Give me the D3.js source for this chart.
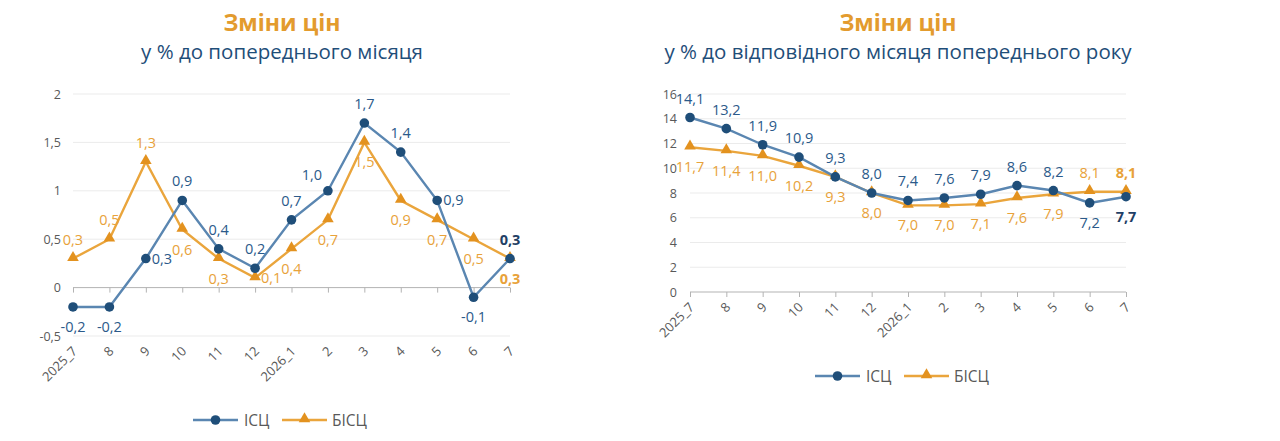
<!DOCTYPE html>
<html>
<head>
<meta charset="utf-8">
<script src="https://cdn.jsdelivr.net/npm/d3@7"></script>
<style>
body { margin: 0; background: #fff; }
svg { font-family: "Open Sans", "DejaVu Sans", sans-serif; }
</style>
</head>
<body>
<script>
(function(){

//categories shared by both charts
var months = ["2025_7", "8", "9", "10", "11", "12", "2026_1", "2", "3", "4", "5", "6", "7"];
var seriesNames = ["ІСЦ", "БІСЦ"];

//month to month, %
var cpiMoM = [-0.2, -0.2, 0.3, 0.9, 0.4, 0.2, 0.7, 1.0, 1.7, 1.4, 0.9, -0.1, 0.3];
var hicpMoM = [0.3, 0.5, 1.3, 0.6, 0.3, 0.1, 0.4, 0.7, 1.5, 0.9, 0.7, 0.5, 0.3];
//year on year, %
var cpiYoY = [14.1, 13.2, 11.9, 10.9, 9.3, 8.0, 7.4, 7.6, 7.9, 8.6, 8.2, 7.2, 7.7];
var hicpYoY = [11.7, 11.4, 11.0, 10.2, 9.3, 8.0, 7.0, 7.0, 7.1, 7.6, 7.9, 8.1, 8.1];

//label placement per point: a = above, b = below, r = right, l = above left
var cpiMoMPos = ["b","b","r","a","a","a","a","l","a","a","r","b","a"];
var hicpMoMPos = ["a","a","a","b","b","r","b","b","b","b","b","b","b"];
var cpiYoYPos = ["a","a","a","a","a","a","a","a","a","a","a","b","b"];
var hicpYoYPos = ["b","b","b","b","b","b","b","b","b","b","b","a","a"];

var leftTicks = [-0.5, 0, 0.5, 1, 1.5, 2];
var rightTicks = [0, 2, 4, 6, 8, 10, 12, 14, 16];

var blueLine = "#5a86b1", blueDot = "#1f4e79", blueText = "#2b5a8a";
var orangeLine = "#eaa53c", orangeDot = "#e3921f", orangeText = "#e8a23a";

var svg = d3.select("body").append("svg")
    .attr("width", 1280)
    .attr("height", 441);

var fmt = function(v){
    return d3.format(".1f")(v).replace(".", ",").replace("−", "-");
};
//axis style: no trailing zero
var fmtTick = function(v){
    return String(v).replace(".", ",");
};

drawChart({
    cx: 282, title: "Зміни цін", subtitle: "у % до попереднього місяця",
    x0: 73, x1: 510, yTop: 94, yBottom: 336,
    domain: [-0.5, 2], ticks: leftTicks, tickLabelX: 61,
    labelY: 352, legendY: 420, legendX: 193,
    a: cpiMoM, b: hicpMoM, aPos: cpiMoMPos, bPos: hicpMoMPos
});

drawChart({
    cx: 898, title: "Зміни цін", subtitle: "у % до відповідного місяця попереднього року",
    x0: 690, x1: 1126, yTop: 94, yBottom: 292,
    domain: [0, 16], ticks: rightTicks, tickLabelX: 677,
    labelY: 308, legendY: 376, legendX: 815,
    a: cpiYoY, b: hicpYoY, aPos: cpiYoYPos, bPos: hicpYoYPos
});

function drawChart(c){
    var g = svg.append("g");

    //titles
    g.append("text")
        .attr("x", c.cx).attr("y", 30.5)
        .attr("text-anchor", "middle")
        .attr("font-size", 23).attr("font-weight", "bold")
        .attr("fill", "#e39b2e")
        .text(c.title);
    g.append("text")
        .attr("x", c.cx).attr("y", 59)
        .attr("text-anchor", "middle")
        .attr("font-size", 20.5)
        .attr("fill", "#1f4e79")
        .text(c.subtitle);

    var x = d3.scalePoint().domain(months).range([c.x0, c.x1]);
    var y = d3.scaleLinear().domain(c.domain).range([c.yBottom, c.yTop]);

    //gridlines
    g.selectAll(".grid")
        .data(c.ticks.filter(function(t){ return t !== 0; }))
        .enter().append("line")
        .attr("x1", c.x0).attr("x2", c.x1)
        .attr("y1", function(d){ return y(d); })
        .attr("y2", function(d){ return y(d); })
        .attr("stroke", "#ebebeb").attr("stroke-width", 1);

    //y tick labels
    g.selectAll(".ytick")
        .data(c.ticks)
        .enter().append("text")
        .attr("x", c.tickLabelX)
        .attr("y", function(d){ return y(d) + 4.5; })
        .attr("text-anchor", "end")
        .attr("font-size", 12.5).attr("fill", "#595959")
        .text(fmtTick);

    //zero axis with ticks
    var axis = g.append("g")
        .attr("transform", "translate(0," + y(0) + ")")
        .call(d3.axisBottom(x).tickSize(5).tickFormat(""));
    axis.select(".domain").attr("stroke", "#b3b3b3").attr("d", "M" + c.x0 + ",0H" + c.x1);
    axis.selectAll(".tick line").attr("stroke", "#b3b3b3");

    //x labels, rotated
    g.selectAll(".xlab")
        .data(months)
        .enter().append("text")
        .attr("transform", function(d){
            return "translate(" + (x(d) + 5) + "," + c.labelY + ") rotate(-45)";
        })
        .attr("text-anchor", "end")
        .attr("font-size", 13).attr("fill", "#595959")
        .text(function(d){ return d; });

    var line = d3.line()
        .x(function(d, i){ return x(months[i]); })
        .y(function(d){ return y(d); });

    //orange series first, blue on top
    g.append("path").datum(c.b)
        .attr("d", line).attr("fill", "none")
        .attr("stroke", orangeLine).attr("stroke-width", 2.4);
    g.selectAll(".tri").data(c.b).enter().append("path")
        .attr("d", d3.symbol().type(d3.symbolTriangle).size(58))
        .attr("transform", function(d, i){ return "translate(" + x(months[i]) + "," + (y(d) - 1) + ")"; })
        .attr("fill", orangeDot);

    g.append("path").datum(c.a)
        .attr("d", line).attr("fill", "none")
        .attr("stroke", blueLine).attr("stroke-width", 2.4);
    g.selectAll(".dot").data(c.a).enter().append("circle")
        .attr("cx", function(d, i){ return x(months[i]); })
        .attr("cy", function(d){ return y(d); })
        .attr("r", 4.8)
        .attr("fill", blueDot);

    //data labels
    addLabels(g, c.a, c.aPos, blueText, x, y);
    addLabels(g, c.b, c.bPos, orangeText, x, y);

    //legend
    var lg = g.append("g").attr("transform", "translate(" + c.legendX + "," + c.legendY + ")");
    lg.append("line").attr("x1", 0).attr("x2", 45).attr("stroke", blueLine).attr("stroke-width", 2.4);
    lg.append("circle").attr("cx", 22.5).attr("r", 4.8).attr("fill", blueDot);
    lg.append("text").attr("x", 51).attr("y", 5.5).attr("font-size", 15.5).attr("fill", "#595959").text(seriesNames[0]);
    lg.append("line").attr("x1", 89).attr("x2", 134).attr("stroke", orangeLine).attr("stroke-width", 2.4);
    lg.append("path").attr("d", d3.symbol().type(d3.symbolTriangle).size(58))
        .attr("transform", "translate(111.5,-1)").attr("fill", orangeDot);
    lg.append("text").attr("x", 139).attr("y", 5.5).attr("font-size", 15.5).attr("fill", "#595959").text(seriesNames[1]);
}

function addLabels(g, vals, pos, color, x, y){
    g.selectAll(null).data(vals).enter().append("text")
        .attr("x", function(d, i){
            var p = pos[i], px = x(months[i]);
            if (p === "r") return px + 6;
            if (p === "l") return px - 16;
            return px;
        })
        .attr("y", function(d, i){
            var p = pos[i], py = y(d);
            if (p === "a") return py - 14;
            if (p === "l") return py - 11;
            if (p === "b") return py + 25;
            return py + 5;
        })
        .attr("text-anchor", function(d, i){
            return pos[i] === "r" ? "start" : "middle";
        })
        .attr("font-size", 14.5)
        .attr("font-weight", function(d, i){ return i === vals.length - 1 ? "bold" : "normal"; })
        .attr("fill", function(d, i){ return i === vals.length - 1 && color === blueText ? "#1f3f66" : color; })
        .text(function(d){ return fmt(d); });
}

})();
</script>
</body>
</html>
